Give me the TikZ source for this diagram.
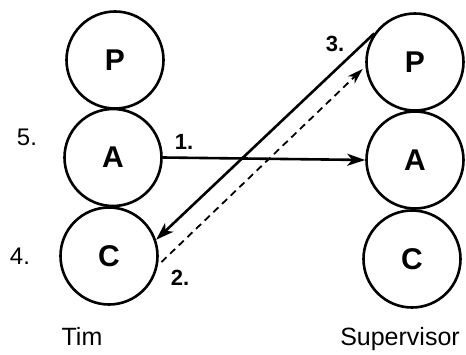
\documentclass[tikz,border=0pt]{standalone}
\usepackage{fontspec}
\setmainfont{Liberation Sans}
\usetikzlibrary{arrows.meta}
\begin{document}
\begin{tikzpicture}[x=1pt,y=-1pt,
  ring/.style={circle,draw,line width=2.6pt,minimum size=97pt,inner sep=0pt,font=\fontsize{30}{32}\selectfont\bfseries},
  num/.style={font=\fontsize{22}{24}\selectfont\bfseries,inner sep=0pt},
  side/.style={font=\fontsize{24}{26}\selectfont,inner sep=0pt},
  who/.style={font=\fontsize{25}{27}\selectfont,inner sep=0pt,anchor=base},
  solidarrow/.style={line width=2.6pt,-{Stealth[length=18pt,width=12pt,inset=5pt]}},
  dasharrow/.style={line width=1.8pt,dashed,dash pattern=on 7pt off 5pt,-{Stealth[length=16pt,width=10pt,inset=5pt]}}]
\useasboundingbox (0,0) rectangle (466,355);
% left column (Tim)
\node[ring] (lP) at (115,60) {P};
\node[ring] (lA) at (113,157.5) {A};
\node[ring] (lC) at (109,256) {C};
% right column (Supervisor)
\node[ring] (rP) at (415,62) {P};
\node[ring] (rA) at (415,160) {A};
\node[ring] (rC) at (412,259) {C};
% labels
\node[side] (n5) at (27,137) {5.};
\node[side] (n4) at (20,256) {4.};
\node[num] (n1) at (184,142) {1.};
\node[num] (n2) at (180,278) {2.};
\node[num] (n3) at (335,44) {3.};
\node[who] (tim) at (82,345) {Tim};
\node[who] (sup) at (400,345) {Supervisor};
% connectors
\draw[solidarrow] (lA.east) -- (rA.west);
\draw[solidarrow] (rP.145) -- (lC.19);
\draw[dasharrow] ([xshift=3pt]lC.-7) -- ([xshift=-3pt]rP.188);
\end{tikzpicture}
\end{document}
